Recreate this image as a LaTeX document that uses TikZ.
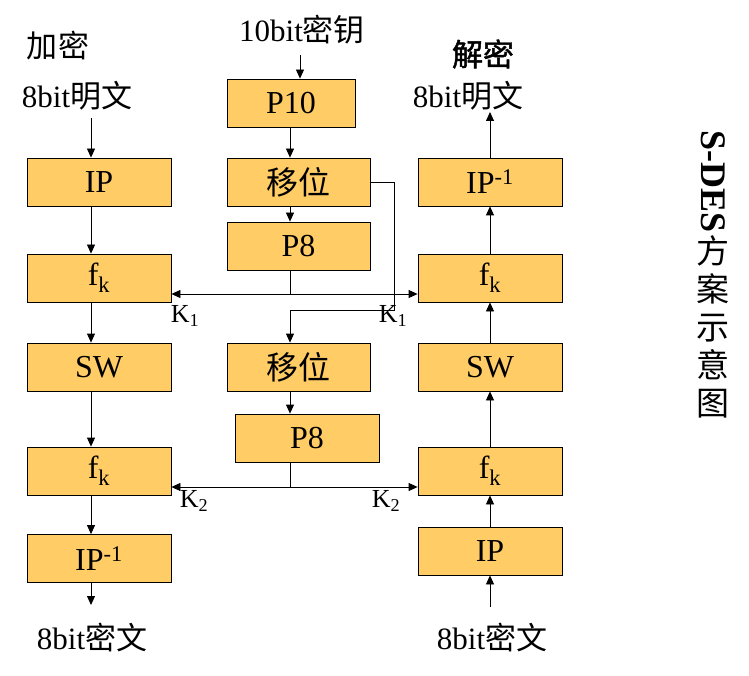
\documentclass[tikz,border=0pt]{standalone}
\usepackage{fontspec}
\setmainfont{Liberation Serif}
\newfontfamily\cjk{Noto Sans CJK SC}
\newfontfamily\cjkb[FakeBold=1.5]{Noto Sans CJK SC}
\usetikzlibrary{arrows.meta}
\definecolor{boxfill}{HTML}{FFCC66}
\begin{document}
\begin{tikzpicture}[x=1pt,y=-1pt,
  blk/.style={draw=black, line width=0.8pt, fill=boxfill, minimum width=144pt, minimum height=48pt, inner sep=0pt, font=\fontsize{32}{38}\selectfont},
  arr/.style={line width=0.8pt, -{Triangle[length=9pt,width=8pt]}},
  ln/.style={line width=0.8pt},
  txt/.style={inner sep=0pt, font=\fontsize{31}{36}\selectfont},
  klab/.style={inner sep=0pt, font=\fontsize{26}{30}\selectfont}]
\useasboundingbox (0,0) rectangle (749,676);

% left column (encryption)
\node[blk] (ipL)    at (99,182)   {IP};
\node[blk] (fk1L)   at (99,278)   {f\textsubscript{k}};
\node[blk] (swL)    at (99,367)   {SW};
\node[blk] (fk2L)   at (99,471)   {f\textsubscript{k}};
\node[blk] (ipinvL) at (99,558.5) {IP\textsuperscript{-1}};

% middle column (key generation)
\node[blk, minimum width=128pt] (p10) at (291,103)   {P10};
\node[blk, minimum width=143pt] (sh1) at (298.5,182) {\cjk 移位};
\node[blk, minimum width=143pt] (p8a) at (298.5,246) {P8};
\node[blk, minimum width=143pt] (sh2) at (298.5,367) {\cjk 移位};
\node[blk] (p8b) at (307,438) {P8};

% right column (decryption)
\node[blk] (ipinvR) at (490,182) {IP\textsuperscript{-1}};
\node[blk] (fk1R)   at (490,278) {f\textsubscript{k}};
\node[blk] (swR)    at (490,367) {SW};
\node[blk] (fk2R)   at (490,471) {f\textsubscript{k}};
\node[blk] (ipR)    at (490,551) {IP};

% texts
\node[txt] (encT) at (58,46)  {\cjk 加密};
\node[txt] (ptL)  at (77,96)  {8bit{\cjk 明文}};
\node[txt] (key)  at (302,30) {10bit{\cjk 密钥}};
\node[txt] (decT) at (483,54) {\cjkb 解密};
\node[txt] (ptR)  at (468,96) {8bit{\cjk 明文}};
\node[txt] (ctL)  at (92,638) {8bit{\cjk 密文}};
\node[txt] (ctR)  at (492,638) {8bit{\cjk 密文}};

\node[klab] (k1L) at (185,316) {K\textsubscript{1}};
\node[klab] (k1R) at (393,316) {K\textsubscript{1}};
\node[klab] (k2L) at (194,501) {K\textsubscript{2}};
\node[klab] (k2R) at (386,501) {K\textsubscript{2}};

% title
\node[inner sep=0pt, rotate=-90, anchor=west, font=\fontsize{36}{40}\selectfont\bfseries] (ttl1) at (713,130) {S-DES};
\node[inner sep=0pt, anchor=north, align=center, font=\fontsize{33}{38}\selectfont\cjk] (ttl2) at (713,235) {方\\案\\示\\意\\图};

% coordinates
\coordinate (inL)  at (91,118);
\coordinate (outL) at (91,605);
\coordinate (kin)  at (300,55);
\coordinate (outR) at (490,112);
\coordinate (inR)  at (490,607);
\coordinate (mx)   at (290,0);
\coordinate (j1)   at (290,294);
\coordinate (j2)   at (290,487);
\coordinate (c1)   at (394,182);
\coordinate (c2)   at (394,310);
\coordinate (c3)   at (290,310);

% left chain
\draw[arr] (inL) -- (ipL.north -| inL);
\draw[arr] (ipL.south -| inL) -- (fk1L.north -| inL);
\draw[arr] (fk1L.south -| inL) -- (swL.north -| inL);
\draw[arr] (swL.south -| inL) -- (fk2L.north -| inL);
\draw[arr] (fk2L.south -| inL) -- (ipinvL.north -| inL);
\draw[arr] (ipinvL.south -| inL) -- (outL);

% key chain
\draw[arr] (kin) -- (p10.north -| kin);
\draw[arr] (p10.south -| mx) -- (sh1.north -| mx);
\draw[arr] (sh1.south -| mx) -- (p8a.north -| mx);
\draw[ln] (p8a.south -| mx) -- (j1);
\draw[arr] (j1) -- (j1 -| fk1L.east);
\draw[arr] (j1) -- (j1 -| fk1R.west);
\draw[arr] (sh1.east |- c1) -- (c1) -- (c2) -- (c3) -- (sh2.north -| mx);
\draw[arr] (sh2.south -| mx) -- (p8b.north -| mx);
\draw[ln] (p8b.south -| mx) -- (j2);
\draw[arr] (j2) -- (j2 -| fk2L.east);
\draw[arr] (j2) -- (j2 -| fk2R.west);

% right chain (upwards)
\draw[arr] (inR) -- (ipR.south);
\draw[arr] (ipR.north) -- (fk2R.south);
\draw[arr] (fk2R.north) -- (swR.south);
\draw[arr] (swR.north) -- (fk1R.south);
\draw[arr] (fk1R.north) -- (ipinvR.south);
\draw[arr] (ipinvR.north) -- (outR);
\end{tikzpicture}
\end{document}
